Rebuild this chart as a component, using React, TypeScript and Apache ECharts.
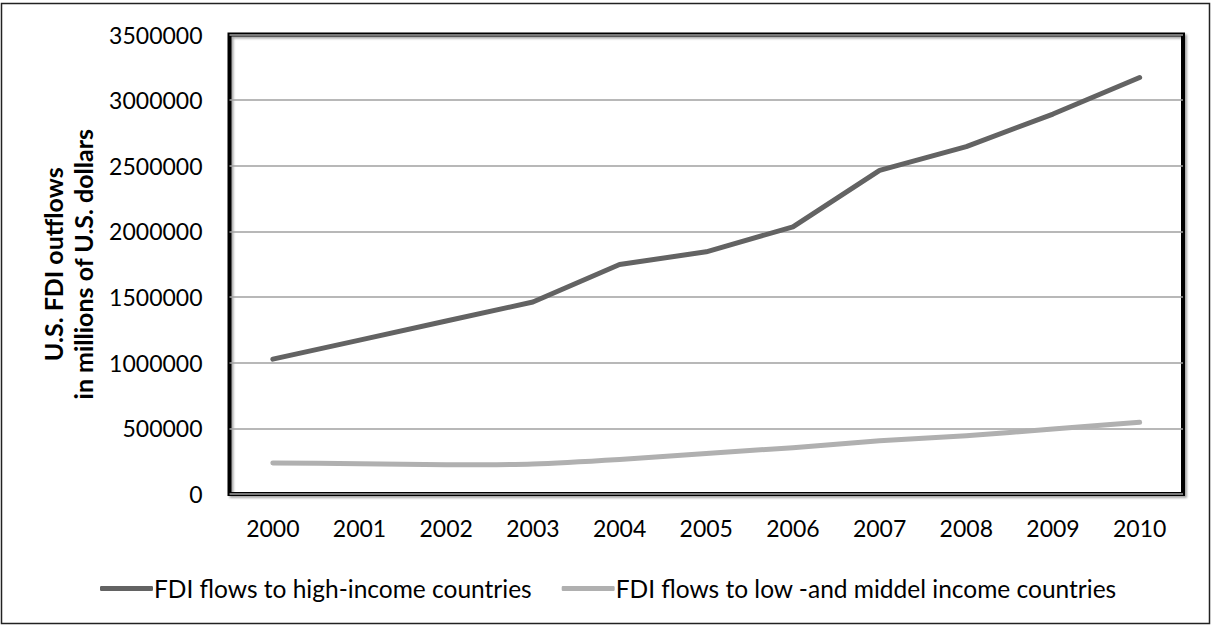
import React, { useEffect, useRef } from "react";
import * as echarts from "echarts";

const years = ["2000", "2001", "2002", "2003", "2004", "2005", "2006", "2007", "2008", "2009", "2010"];
const highIncome = [1027000, 1172000, 1318000, 1462000, 1748000, 1845000, 2035000, 2465000, 2646000, 2894000, 3172000];
const lowMiddleIncome = [237000, 230000, 223000, 229000, 263000, 309000, 353000, 405000, 443000, 495000, 546000];
const seriesNames = ["FDI flows to high-income countries", "FDI flows to low -and middel income countries"];
const yAxisTitle = ["U.S. FDI outflows", "in millions of U.S. dollars"];

const FONT = "Lato";

export default function App() {
  const ref = useRef<HTMLDivElement>(null);
  useEffect(() => {
    if (!ref.current) return;
    const chart = echarts.init(ref.current, null, { renderer: "svg" });
    chart.setOption({
      animation: false,
      backgroundColor: "#ffffff",
      textStyle: { fontFamily: FONT },
      graphic: [
        {
          type: "rect",
          shape: { x: 1.5, y: 3.5, width: 1208, height: 620 },
          style: { fill: "none", stroke: "#222", lineWidth: 1.5 },
          silent: true,
        },
      ],
      grid: {
        left: 229.5,
        top: 34.5,
        right: 29,
        bottom: 132,
        show: true,
        borderColor: "#000",
        borderWidth: 4,
        shadowColor: "rgba(0,0,0,0.35)",
        shadowBlur: 2,
        shadowOffsetX: 2,
        shadowOffsetY: 2,
        containLabel: false,
      },
      legend: {
        left: 95,
        top: 571,
        itemGap: 30,
        itemWidth: 53,
        itemHeight: 5,
        icon: "roundRect",
        textStyle: { fontFamily: FONT, fontSize: 24.5, color: "#000", padding: [0, 0, 0, -4] },
        data: seriesNames,
      },
      xAxis: {
        type: "category",
        data: years,
        boundaryGap: true,
        axisLine: { show: false },
        axisTick: { show: false },
        axisLabel: { fontFamily: FONT, fontSize: 23, color: "#000", margin: 22 },
        splitLine: { show: false },
      },
      yAxis: {
        type: "value",
        min: 0,
        max: 3500000,
        interval: 500000,
        axisLine: { show: false },
        axisTick: { show: false },
        axisLabel: {
          fontFamily: FONT,
          fontSize: 23,
          color: "#000",
          margin: 27,
          formatter: (v: number) => String(v),
        },
        splitLine: { show: true, lineStyle: { color: "#a0a0a0", width: 1.5 } },
        name: yAxisTitle.join("\n"),
        nameLocation: "middle",
        nameRotate: 90,
        nameGap: 115,
        nameTextStyle: { fontFamily: FONT, fontSize: 25, fontWeight: "bold", color: "#000", lineHeight: 30, align: "center" },
      },
      series: [
        {
          name: seriesNames[0],
          type: "line",
          data: highIncome,
          symbol: "none",
          lineStyle: { color: "#636363", width: 5, cap: "round", join: "round" },
          itemStyle: { color: "#636363" },
        },
        {
          name: seriesNames[1],
          type: "line",
          data: lowMiddleIncome,
          symbol: "none",
          smooth: 0.2,
          lineStyle: { color: "#b0b0b0", width: 5, cap: "round", join: "round" },
          itemStyle: { color: "#b0b0b0" },
        },
      ],
    });
    return () => chart.dispose();
  }, []);
  return <div ref={ref} style={{ position: "fixed", left: 0, top: 0, width: 1212, height: 626 }} />;
}
